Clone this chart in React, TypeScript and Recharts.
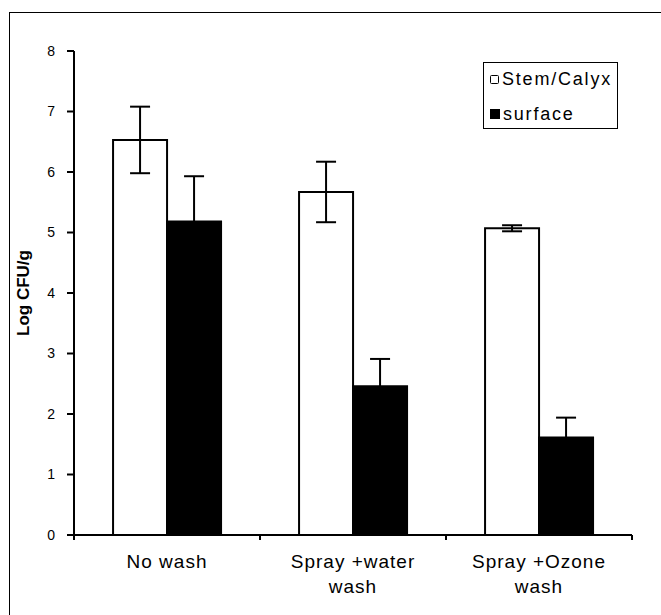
import React from "react";
import {
  BarChart,
  Bar,
  XAxis,
  YAxis,
  ErrorBar,
  Legend,
} from "recharts";

//========== Data ===========

const categories = ["No wash", "Spray +water wash", "Spray +Ozone wash"];
const tickLines = [["No wash"], ["Spray +water", "wash"], ["Spray +Ozone", "wash"]];
const stemCalyx = [6.53, 5.67, 5.07];
const stemCalyxErr = [0.55, 0.5, 0.05];
const surface = [5.18, 2.46, 1.61];
const surfaceErr = [0.75, 0.45, 0.33];
const yTicks = [0, 1, 2, 3, 4, 5, 6, 7, 8];

const data = categories.map((name, i) => ({
  name,
  lines: tickLines[i],
  stem: stemCalyx[i],
  stemErr: stemCalyxErr[i],
  surface: surface[i],
  surfaceErr: surfaceErr[i],
}));

const FONT = "'Liberation Sans', Arial, Helvetica, sans-serif";

//========== Custom pieces ===========

const CategoryTick = (props: any) => {
  const { x, y, payload, index } = props;
  const half = payload?.offset ?? 93;
  const lines: string[] = tickLines[index] ?? [payload.value];
  const axisY = y - 8;
  return (
    <g>
      <line x1={x - half} y1={axisY} x2={x - half} y2={axisY + 5} stroke="#000" strokeWidth={2} />
      {index === categories.length - 1 && (
        <line x1={x + half} y1={axisY} x2={x + half} y2={axisY + 5} stroke="#000" strokeWidth={2} />
      )}
      <text
        x={x}
        y={y + 25}
        textAnchor="middle"
        fill="#000"
        fontSize={19}
        fontFamily={FONT}
        letterSpacing={1}
      >
        {lines.map((l, i) => (
          <tspan key={i} x={x} dy={i === 0 ? 0 : 25}>
            {l}
          </tspan>
        ))}
      </text>
    </g>
  );
};

const LegendBox = () => (
  <div
    style={{
      width: 133,
      height: 65,
      border: "1.5px solid #000",
      background: "#fff",
      fontFamily: FONT,
      fontSize: 18,
      letterSpacing: 1.8,
      color: "#000",
      boxSizing: "content-box",
    }}
  >
    <div style={{ display: "flex", alignItems: "center", height: 16, marginTop: 8, paddingLeft: 6 }}>
      <span
        style={{
          display: "inline-block",
          width: 7,
          height: 7,
          border: "1.5px solid #000",
          borderRadius: 1.5,
          marginRight: 3,
        }}
      />
      Stem/Calyx
    </div>
    <div style={{ display: "flex", alignItems: "center", height: 16, marginTop: 19, paddingLeft: 6 }}>
      <span
        style={{
          display: "inline-block",
          width: 10,
          height: 10,
          background: "#000",
          marginRight: 3,
        }}
      />
      surface
    </div>
  </div>
);

//========== Chart ===========

export default function App() {
  return (
    <div style={{ position: "absolute", left: 0, top: 0, width: 661, height: 615, background: "#fff" }}>
      {/* outer frame (top and left only) */}
      <div
        style={{
          position: "absolute",
          left: 9,
          top: 12,
          width: 652,
          height: 603,
          borderTop: "1.5px solid #000",
          borderLeft: "1.5px solid #000",
          boxSizing: "border-box",
        }}
      />
      <div style={{ position: "absolute", left: 0, top: 0 }}>
        <BarChart
          width={661}
          height={615}
          data={data}
          margin={{ top: 51, right: 29, bottom: 20, left: 14 }}
          barCategoryGap="21%"
          barGap={0}
        >
          <XAxis
            dataKey="name"
            height={60}
            axisLine={{ stroke: "#000", strokeWidth: 2 }}
            tickLine={false}
            interval={0}
            tick={<CategoryTick />}
          />
          <XAxis
            xAxisId="top"
            dataKey="name"
            orientation="top"
            height={0}
            tick={false}
            tickLine={false}
            axisLine={{ stroke: "#000", strokeWidth: 2 }}
          />
          <YAxis
            domain={[0, 8]}
            ticks={yTicks}
            width={60}
            tickSize={7}
            tickMargin={12}
            axisLine={{ stroke: "#000", strokeWidth: 2 }}
            tickLine={{ stroke: "#000", strokeWidth: 2 }}
            tick={{ fill: "#000", fontSize: 14, fontFamily: FONT }}
            label={{
              content: (p: any) => {
                const vb = p.viewBox || {};
                const cy = (vb.y ?? 51) + (vb.height ?? 484) / 2;
                return (
                  <text
                    x={23}
                    y={cy}
                    transform={`rotate(-90 23 ${cy})`}
                    textAnchor="middle"
                    dominantBaseline="central"
                    fontSize={17}
                    fontWeight="bold"
                    fontFamily={FONT}
                    fill="#000"
                  >
                    Log CFU/g
                  </text>
                );
              },
            }}
          />
          <YAxis
            yAxisId="right"
            orientation="right"
            domain={[0, 8]}
            width={0}
            tick={false}
            tickLine={false}
            axisLine={{ stroke: "#000", strokeWidth: 2 }}
          />
          <Legend
            layout="vertical"
            align="center"
            verticalAlign="middle"
            content={<LegendBox />}
            wrapperStyle={{ top: 62, left: 483, width: "auto", height: "auto" }}
          />
          <Bar
            dataKey="stem"
            name="Stem/Calyx"
            fill="#fff"
            stroke="#000"
            strokeWidth={2}
            isAnimationActive={false}
          >
            <ErrorBar
              dataKey="stemErr"
              direction="y"
              width={10}
              stroke="#000"
              strokeWidth={2}
              isAnimationActive={false}
            />
          </Bar>
          <Bar
            dataKey="surface"
            name="surface"
            fill="#000"
            stroke="#000"
            strokeWidth={2}
            isAnimationActive={false}
          >
            <ErrorBar
              dataKey="surfaceErr"
              direction="y"
              width={10}
              stroke="#000"
              strokeWidth={2}
              isAnimationActive={false}
            />
          </Bar>
        </BarChart>
      </div>
    </div>
  );
}
